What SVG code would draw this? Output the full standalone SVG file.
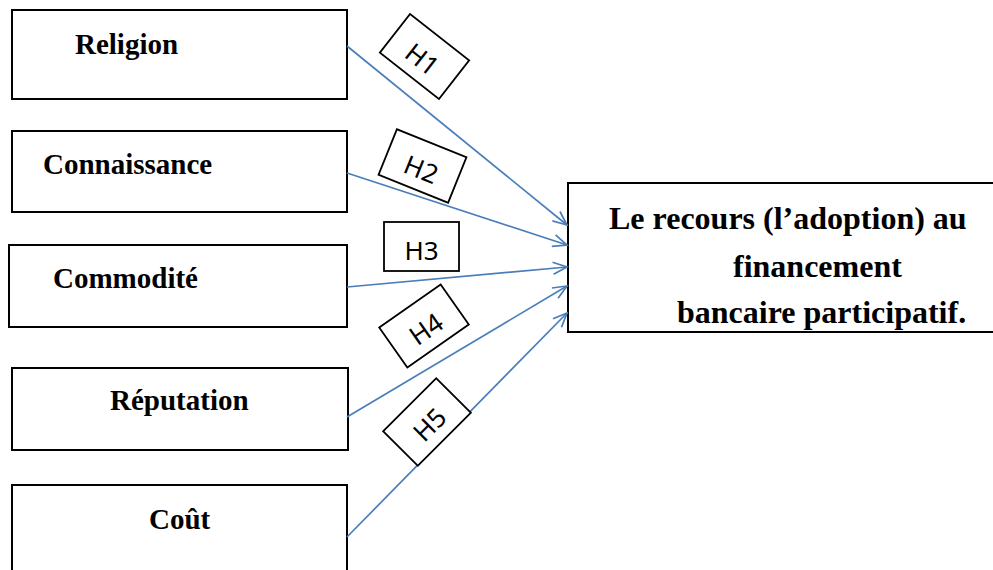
<svg xmlns="http://www.w3.org/2000/svg" width="993" height="570" viewBox="0 0 993 570">
<style>
.box{fill:#fff;stroke:#000;stroke-width:2}
.nt{font-family:"Liberation Serif","Times New Roman",serif;font-weight:bold;font-size:29px;fill:#000}
.tt{font-family:"Liberation Serif","Times New Roman",serif;font-weight:bold;font-size:32px;fill:#000}
.conn{fill:none;stroke:#4a7ebb;stroke-width:1.7}
.lb{fill:#fff;stroke:#000;stroke-width:1.8}
.lt{font-family:"Noto Sans","Open Sans",sans-serif;font-size:26px;fill:#000;text-anchor:middle}
</style>
<defs>
<marker id="arr" markerWidth="17" markerHeight="14" refX="15" refY="7" orient="auto" markerUnits="userSpaceOnUse">
<path d="M1,1 L15,7 L1,13" fill="none" stroke="#4a7ebb" stroke-width="1.7"/>
</marker>
</defs>
<rect width="993" height="570" fill="#fff"/>
<g id="node-religion"><rect class="box" x="12" y="10" width="335" height="89"/><text class="nt" x="75" y="54">Religion</text></g>
<g id="node-connaissance"><rect class="box" x="12" y="131" width="335" height="81"/><text class="nt" x="43" y="174">Connaissance</text></g>
<g id="node-commodite"><rect class="box" x="9" y="245" width="338" height="82"/><text class="nt" x="53" y="288">Commodité</text></g>
<g id="node-reputation"><rect class="box" x="12" y="368" width="336" height="82"/><text class="nt" x="110" y="410">Réputation</text></g>
<g id="node-cout"><rect class="box" x="12" y="485" width="335" height="100"/><text class="nt" x="149" y="529">Coût</text></g>
<g id="node-recours"><rect class="box" x="568" y="183" width="440" height="149"/>
<text class="tt" x="609" y="229">Le recours (l’adoption) au</text>
<text class="tt" x="733" y="277">financement</text>
<text class="tt" x="677" y="323">bancaire participatif.</text></g>
<g id="connectors">
<line class="conn" x1="347" y1="46" x2="567" y2="225" marker-end="url(#arr)"/>
<line class="conn" x1="347" y1="173" x2="567" y2="245" marker-end="url(#arr)"/>
<line class="conn" x1="347" y1="287" x2="567" y2="267" marker-end="url(#arr)"/>
<line class="conn" x1="347" y1="417" x2="567" y2="286" marker-end="url(#arr)"/>
<line class="conn" x1="347" y1="537" x2="567" y2="313" marker-end="url(#arr)"/>
</g>
<g id="labels">
<g id="label-h1" transform="translate(424.5,56.5) rotate(38)"><rect class="lb" x="-37.5" y="-24.5" width="75" height="49"/><text class="lt" x="0" y="13">H1</text></g>
<g id="label-h2" transform="translate(422.5,166) rotate(22)"><rect class="lb" x="-37.5" y="-24.5" width="75" height="49"/><text class="lt" x="0" y="13">H2</text></g>
<g id="label-h3" transform="translate(421.5,246.5)"><rect class="lb" x="-37.5" y="-24.5" width="75" height="49"/><text class="lt" x="0" y="13">H3</text></g>
<g id="label-h4" transform="translate(424,326) rotate(-35)"><rect class="lb" x="-37.5" y="-24.5" width="75" height="49"/><text class="lt" x="0" y="13">H4</text></g>
<g id="label-h5" transform="translate(427,422) rotate(-45)"><rect class="lb" x="-37.5" y="-24.5" width="75" height="49"/><text class="lt" x="0" y="13">H5</text></g>
</g>
</svg>
